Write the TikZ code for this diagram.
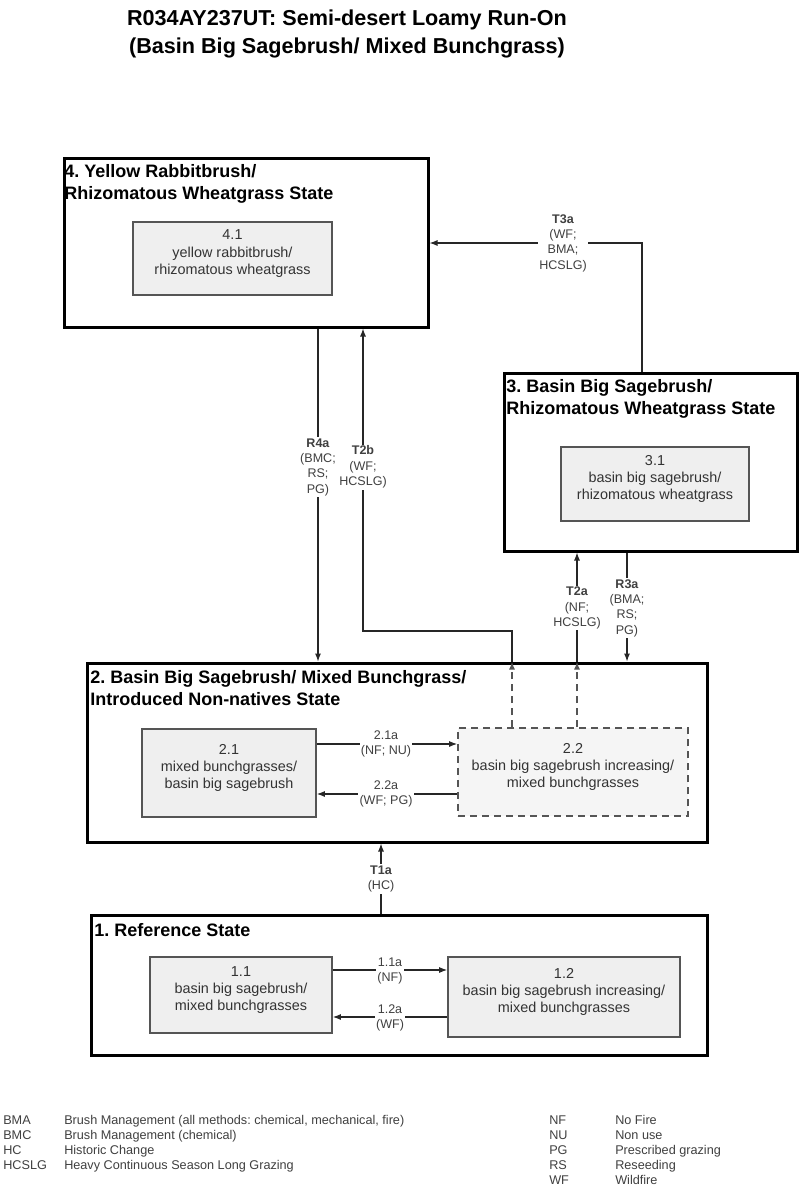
\documentclass[tikz,border=0pt]{standalone}
\usepackage{fontspec}
\setmainfont{Liberation Sans}
\usetikzlibrary{arrows.meta,fit}
\definecolor{boxfill}{HTML}{EFEFEF}
\definecolor{boxline}{HTML}{555555}
\definecolor{intxt}{HTML}{333333}
\definecolor{lbltxt}{HTML}{404040}
\frenchspacing
\begin{document}
\begin{tikzpicture}[x=0.75pt,y=-0.75pt,
  statebox/.style={draw=black, line width=2.25pt, inner sep=0pt},
  innerbox/.style={draw=boxline, line width=1.3pt, fill=boxfill, inner sep=0pt, align=center,
    font=\fontsize{10.8}{13}\selectfont, text=intxt},
  dashbox/.style={innerbox, dash pattern=on 5.5pt off 3.5pt, fill=boxfill!60!white},
  sttitle/.style={anchor=north west, inner sep=0pt, align=left, font=\bfseries\fontsize{13.5}{16.5}\selectfont},
  arr/.style={-{Latex[length=6pt,width=4.5pt]}, line width=0.8pt, draw=black!85},
  dasharr/.style={-{Latex[length=6pt,width=4.5pt]}, line width=1.2pt, draw=boxline, dash pattern=on 5.5pt off 3.5pt},
  lbl/.style={fill=white, inner sep=1pt, align=center, font=\fontsize{9.4}{11.5}\selectfont, text=lbltxt},
  legend/.style={anchor=base west, inner sep=0pt, font=\fontsize{9.5}{11}\selectfont, text=lbltxt}
]
\useasboundingbox (0,0) rectangle (800,1189);
\fill[white] (0,0) rectangle (800,1189);

% title
\node[font=\bfseries\fontsize{16.2}{21}\selectfont, align=center] (title) at (347,34)
  {R034AY237UT: Semi-desert Loamy Run-On\\(Basin Big Sagebrush/ Mixed Bunchgrass)};

% state boxes
\node[statebox, fit={(64,158) (428,327)}] (s4) {};
\node[statebox, fit={(504,373) (797,551)}] (s3) {};
\node[statebox, fit={(87,663) (707,842)}] (s2) {};
\node[statebox, fit={(91,915) (707,1055)}] (s1) {};

\node[sttitle] (s4t) at (64,164.3) {4. Yellow Rabbitbrush/\\Rhizomatous Wheatgrass State};
\node[sttitle] (s3t) at (506,379.3) {3. Basin Big Sagebrush/\\Rhizomatous Wheatgrass State};
\node[sttitle] (s2t) at (90,670.3) {2. Basin Big Sagebrush/ Mixed Bunchgrass/\\Introduced Non-natives State};
\node[sttitle] (s1t) at (94,923.3) {1. Reference State};

% community boxes
\node[innerbox, fit={(133,222) (332,295)}] (b41) {4.1\\yellow rabbitbrush/\\rhizomatous wheatgrass};
\node[innerbox, fit={(561,447) (749,521)}] (b31) {3.1\\basin big sagebrush/\\rhizomatous wheatgrass};
\node[innerbox, fit={(142,729) (316,817)}] (b21) {2.1\\mixed bunchgrasses/\\basin big sagebrush};
\node[dashbox, fit={(458,728) (688,816)}] (b22) {2.2\\basin big sagebrush increasing/\\mixed bunchgrasses};
\node[innerbox, fit={(150,957) (332,1033)}] (b11) {1.1\\basin big sagebrush/\\mixed bunchgrasses};
\node[innerbox, fit={(448,957) (680,1037)}] (b12) {1.2\\basin big sagebrush increasing/\\mixed bunchgrasses};

% reference coordinates for connector positions
\coordinate (xT3) at (642,0);
\coordinate (yT3) at (0,243);
\coordinate (xR4) at (318,0);
\coordinate (xT2b) at (512,0);
\coordinate (kT2b) at (363,631);
\coordinate (xT2a) at (577,0);
\coordinate (xR3) at (627,0);
\coordinate (xT1) at (381,0);
\coordinate (y21a) at (0,744);
\coordinate (y22a) at (0,794);
\coordinate (y11a) at (0,970);
\coordinate (y12a) at (0,1017);

% connectors
\draw[arr] (s3.north -| xT3) |- (s4.east |- yT3);
\draw[arr] (s4.south -| xR4) -- (s2.north -| xR4);
\draw[dasharr] (b22.north -| xT2b) -- (s2.north -| xT2b);
\draw[arr] (s2.north -| xT2b) |- (kT2b) -- (s4.south -| kT2b);
\draw[dasharr] (b22.north -| xT2a) -- (s2.north -| xT2a);
\draw[arr] (s2.north -| xT2a) -- (s3.south -| xT2a);
\draw[arr] (s3.south -| xR3) -- (s2.north -| xR3);
\draw[arr] (b21.east |- y21a) -- (b22.west |- y21a);
\draw[arr] (b22.west |- y22a) -- (b21.east |- y22a);
\draw[arr] (s1.north -| xT1) -- (s2.south -| xT1);
\draw[arr] (b11.east |- y11a) -- (b12.west |- y11a);
\draw[arr] (b12.west |- y12a) -- (b11.east |- y12a);

% connector labels
\node[lbl] (lT3a) at (563,243) {\textbf{T3a}\\(WF;\\BMA;\\HCSLG)};
\node[lbl] (lR4a) at (318,467) {\textbf{R4a}\\(BMC;\\RS;\\PG)};
\node[lbl] (lT2b) at (363,467) {\textbf{T2b}\\(WF;\\HCSLG)};
\node[lbl] (lT2a) at (577,608) {\textbf{T2a}\\(NF;\\HCSLG)};
\node[lbl] (lR3a) at (627,608) {\textbf{R3a}\\(BMA;\\RS;\\PG)};
\node[lbl] (l21a) at (386,744) {2.1a\\(NF; NU)};
\node[lbl] (l22a) at (386,794) {2.2a\\(WF; PG)};
\node[lbl] (lT1a) at (381,879) {\textbf{T1a}\\(HC)};
\node[lbl] (l11a) at (390,971) {1.1a\\(NF)};
\node[lbl] (l12a) at (390,1018) {1.2a\\(WF)};

% legend
\node[legend] (kBMA) at (3,1124) {BMA};
\node[legend] (dBMA) at (64,1124) {Brush Management (all methods: chemical, mechanical, fire)};
\node[legend] (kBMC) at (3,1139) {BMC};
\node[legend] (dBMC) at (64,1139) {Brush Management (chemical)};
\node[legend] (kHC) at (3,1154) {HC};
\node[legend] (dHC) at (64,1154) {Historic Change};
\node[legend] (kHCSLG) at (3,1169) {HCSLG};
\node[legend] (dHCSLG) at (64,1169) {Heavy Continuous Season Long Grazing};
\node[legend] (kNF) at (549,1124) {NF};
\node[legend] (dNF) at (615,1124) {No Fire};
\node[legend] (kNU) at (549,1139) {NU};
\node[legend] (dNU) at (615,1139) {Non use};
\node[legend] (kPG) at (549,1154) {PG};
\node[legend] (dPG) at (615,1154) {Prescribed grazing};
\node[legend] (kRS) at (549,1169) {RS};
\node[legend] (dRS) at (615,1169) {Reseeding};
\node[legend] (kWF) at (549,1184) {WF};
\node[legend] (dWF) at (615,1184) {Wildfire};
\end{tikzpicture}
\end{document}
